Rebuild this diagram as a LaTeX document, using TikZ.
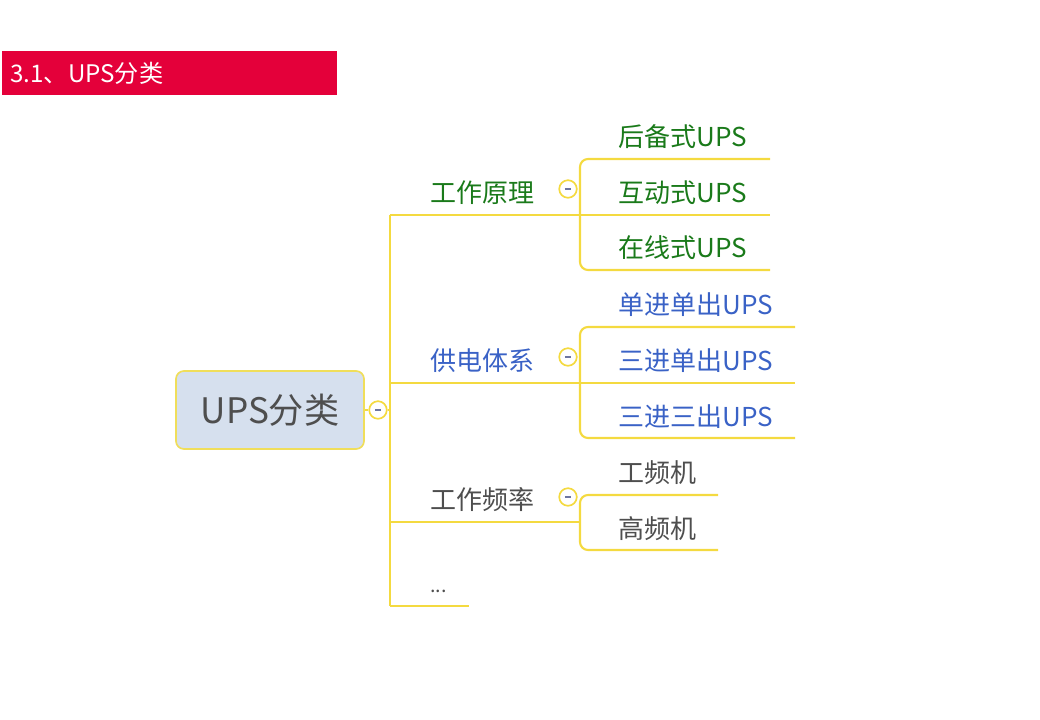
\documentclass[tikz,border=0pt]{standalone}
\usepackage{fontspec}
\newfontfamily\cjk{Noto Sans CJK SC}
\usetikzlibrary{positioning}
\definecolor{titlered}{RGB}{228,0,58}
\definecolor{lineyellow}{RGB}{244,218,64}
\definecolor{rootfill}{RGB}{214,224,238}
\definecolor{rootborder}{RGB}{240,222,90}
\definecolor{textgray}{RGB}{78,78,78}
\definecolor{leafgreen}{RGB}{26,122,26}
\definecolor{leafblue}{RGB}{58,98,198}
\definecolor{minusgray}{RGB}{110,118,160}
\newcommand{\foldminus}{\textcolor{minusgray}{\rule{4.5pt}{0.9pt}}}
\tikzset{
  branch/.style={draw=lineyellow, line width=1.5pt},
  fold/.style={circle, draw=lineyellow, fill=white, line width=1.2pt, minimum size=12.5pt, inner sep=0pt},
  topic/.style={anchor=west, inner sep=0pt, font=\cjk\fontsize{18.5}{20}\selectfont},
}

\begin{document}
\begin{tikzpicture}[x=0.025cm, y=-0.025cm]
	\useasboundingbox (0,0) rectangle (1040,720);
	% title bar
	\node[anchor=north west, fill=titlered, text=white, inner xsep=0.2cm, inner ysep=0pt, text width=7.975cm, minimum height=1.1cm, align=left, font=\cjk\fontsize{17.2}{19}\selectfont] (title) at (2,51) {3.1、UPS分类};
	% root
	\node[fill=rootfill, draw=rootborder, line width=1.2pt, rounded corners=0.2cm, minimum width=4.7cm, minimum height=1.95cm, text=textgray, font=\cjk\fontsize{25}{28}\selectfont] (ups) at (270,410) {UPS分类};
	\node[fold] (f0) at (378,410) {\foldminus};
	\coordinate (trunk) at (390,410);
	\coordinate (trunktop) at (390,215);
	\coordinate (trunkbot) at (390,606);
	\draw[branch] (ups.east) -- (f0.west);
	\draw[branch] (f0.east) -- (trunk);
	\draw[branch] (trunktop) -- (trunkbot);
	% 工作原理
	\node[topic, text=leafgreen] (principle) at (430,193) {工作原理};
	\node[fold] (f1) at (568,189) {\foldminus};
	\node[topic, text=leafgreen] (backup) at (618,137) {后备式UPS};
	\node[topic, text=leafgreen] (interactive) at (618,193) {互动式UPS};
	\node[topic, text=leafgreen] (online) at (618,248) {在线式UPS};
	\coordinate (b1) at (580,215);
	\coordinate (e11) at (770,159);
	\coordinate (e12) at (770,215);
	\coordinate (e13) at (770,270);
	\draw[branch] (trunktop) -- (e12);
	\draw[branch, rounded corners=0.2cm] (e11) -| (b1) |- (e13);
	% 供电体系
	\node[topic, text=leafblue] (supply) at (430,361) {供电体系};
	\node[fold] (f2) at (568,357) {\foldminus};
	\node[topic, text=leafblue] (single) at (618,305) {单进单出UPS};
	\node[topic, text=leafblue] (threeone) at (618,361) {三进单出UPS};
	\node[topic, text=leafblue] (threethree) at (618,417) {三进三出UPS};
	\coordinate (b2) at (580,383);
	\coordinate (e21) at (795,327);
	\coordinate (e22) at (795,383);
	\coordinate (e23) at (795,438);
	\draw[branch] (trunktop |- b2) -- (e22);
	\draw[branch, rounded corners=0.2cm] (e21) -| (b2) |- (e23);
	% 工作频率
	\node[topic, text=textgray] (freq) at (430,500) {工作频率};
	\node[fold] (f3) at (568,497) {\foldminus};
	\node[topic, text=textgray] (low) at (618,473) {工频机};
	\node[topic, text=textgray] (high) at (618,529) {高频机};
	\coordinate (b3) at (580,522);
	\coordinate (e31) at (718,495);
	\coordinate (e32) at (718,550);
	\draw[branch] (trunktop |- b3) -- (b3);
	\draw[branch, rounded corners=0.2cm] (e31) -| (b3) |- (e32);
	% more
	\node[topic, text=textgray, font=\cjk\fontsize{14}{16}\selectfont] (more) at (430,591) {...};
	\coordinate (b4) at (469,606);
	\draw[branch] (trunkbot) -- (b4);
\end{tikzpicture}
\end{document}
